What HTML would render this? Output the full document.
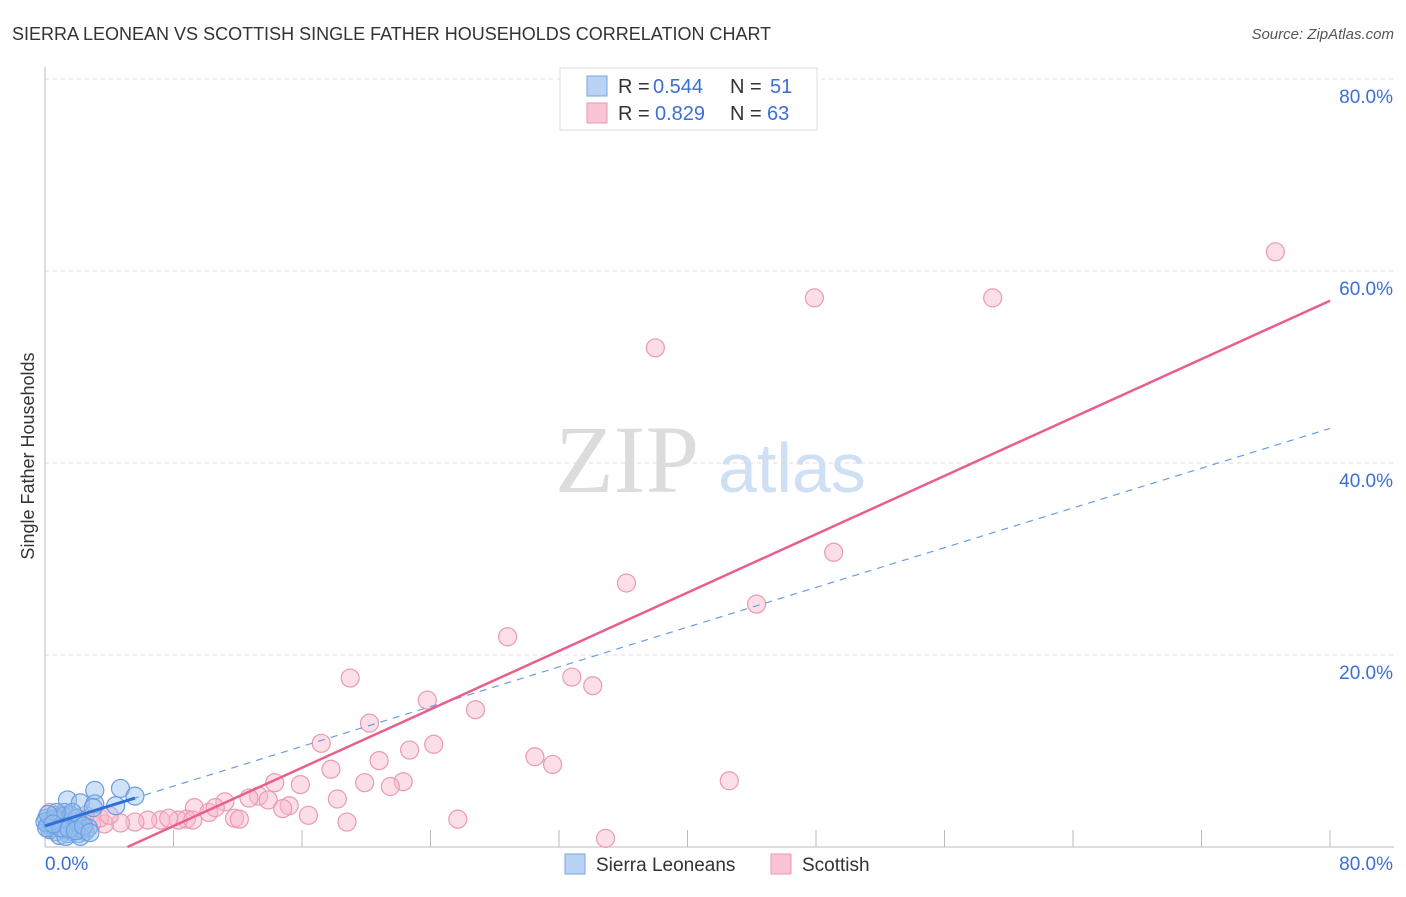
<!DOCTYPE html>
<html><head><meta charset="utf-8"><style>
body{margin:0;background:#fff;font-family:"Liberation Sans",sans-serif;}
svg text{font-family:"Liberation Sans",sans-serif;}
</style></head><body>
<svg id="c" width="1406" height="892">
<text x="12" y="40" font-size="18" fill="#333">SIERRA LEONEAN VS SCOTTISH SINGLE FATHER HOUSEHOLDS CORRELATION CHART</text>
<text x="1394" y="39" font-size="15" fill="#555" font-style="italic" text-anchor="end">Source: ZipAtlas.com</text>
<text x="555" y="492" font-size="96" fill="#dcdcdc" style="font-family:'Liberation Serif',serif">ZIP</text>
<text x="718" y="492" font-size="70" fill="#cfe0f5">atlas</text>
<text transform="translate(34,456) rotate(-90)" font-size="18" fill="#333" text-anchor="middle">Single Father Households</text>
<g id="grid"></g><g id="marks"></g>
<g>
<rect x="560" y="68" width="257" height="62" fill="#fff" stroke="#ddd"/>
<rect x="587" y="76" width="20" height="20" fill="#b9d3f5" stroke="#7aa6e0"/>
<rect x="587" y="103" width="20" height="20" fill="#f9c4d4" stroke="#ea9ab2"/>
<text x="618" y="93" font-size="20" fill="#333">R =</text><text x="653" y="93" font-size="20" fill="#3b6fd4">0.544</text>
<text x="730" y="93" font-size="20" fill="#333">N =</text><text x="770" y="93" font-size="20" fill="#3b6fd4">51</text>
<text x="618" y="120" font-size="20" fill="#333">R =</text><text x="655" y="120" font-size="20" fill="#3b6fd4">0.829</text>
<text x="730" y="120" font-size="20" fill="#333">N =</text><text x="767" y="120" font-size="20" fill="#3b6fd4">63</text>
</g>
<g>
<rect x="565" y="854" width="20" height="20" fill="#b9d3f5" stroke="#7aa6e0"/>
<text x="596" y="871" font-size="19" fill="#333">Sierra Leoneans</text>
<rect x="771" y="854" width="20" height="20" fill="#f9c4d4" stroke="#ea9ab2"/>
<text x="802" y="871" font-size="19" fill="#333">Scottish</text>
</g>
</svg>
<script>
const yTicks=[20,40,60,80];
const xTickLabels=["0.0%","80.0%"];
const blueX=[4.7,3.1,5.6,1.4,2.2,3.1,4.4,3.0,1.2,0.6,0.3,0.6,0.9,0.2,0.4,0.8,1.1,1.3,1.6,1.9,1.7,2.1,2.3,1.4,1.2,0.7,0.1,0.3,0.9,1.8,2.2,2.5,0.6,1.1,0.8,1.6,2.0,0.0,0.1,2.7,1.3,2.2,1.7,0.7,0.2,1.0,0.5,1.5,1.9,2.4,2.8];
const blueY=[6.1,5.9,5.3,4.9,4.6,4.5,4.3,4.1,3.6,3.3,2.8,2.6,3.0,2.3,2.0,2.2,2.4,2.6,2.2,2.0,1.6,1.4,1.8,1.4,1.8,1.6,3.0,1.8,1.2,2.6,2.4,1.6,2.9,3.2,2.8,3.3,3.0,2.6,2.0,2.0,1.1,1.1,3.6,3.6,3.4,2.0,2.4,1.9,1.7,2.2,1.5];
const pinkX=[76.6,47.9,59.0,38.0,49.1,36.2,44.3,28.8,19.0,32.8,34.1,23.8,26.8,20.2,17.2,24.2,22.7,30.5,31.6,20.8,17.8,42.6,14.3,19.9,22.3,21.5,15.9,13.3,12.7,18.2,13.9,11.2,15.2,14.8,16.4,18.8,25.7,34.9,9.3,10.2,11.8,12.1,8.8,8.3,7.2,6.4,5.6,4.7,3.7,2.9,2.2,1.6,0.9,0.3,0.6,1.2,1.9,3.4,4.0,10.6,9.2,7.7,2.5];
const pinkY=[62.0,57.2,57.2,52.0,30.7,27.5,25.3,21.9,17.6,17.7,16.8,15.3,14.3,12.9,10.8,10.7,10.1,9.4,8.6,9.0,8.1,6.9,6.7,6.7,6.8,6.3,6.5,5.3,5.1,5.0,4.9,4.7,4.3,4.0,3.3,2.6,2.9,0.9,4.1,3.6,3.0,2.9,2.9,2.8,2.8,2.8,2.6,2.5,2.4,2.4,2.6,3.0,3.2,3.6,2.2,1.8,2.0,3.0,3.3,4.1,2.8,3.0,3.3];
const blueFit=[2.2,0.5175];
const pinkFit=[-3.9,0.76];
const NS='http://www.w3.org/2000/svg';
const sx=v=>45+v*1285/80, sy=v=>847-v*9.6;
function mk(t,a,p){const e=document.createElementNS(NS,t);for(const k in a)e.setAttribute(k,a[k]);p.appendChild(e);return e;}
const g=document.getElementById('grid'),m=document.getElementById('marks');
yTicks.forEach(t=>{
 const l=mk('line',{x1:45,x2:1394,y1:sy(t),y2:sy(t),stroke:'#ddd','stroke-dasharray':'4,4'},g);
 
 
 const tx=mk('text',{x:1393,y:sy(t)+24,'text-anchor':'end','font-size':19,fill:'#3b6fd4'},g);tx.textContent=t.toFixed(1)+'%';
 
 
});
const ax=mk('line',{x1:45,x2:45,y1:67,y2:847,stroke:'#bbb'},g);


const bx=mk('line',{x1:45,x2:1394,y1:847,y2:847,stroke:'#bbb'},g);


for(let i=1;i<=10;i++){const tk=mk('line',{x1:sx(i*8),x2:sx(i*8),y1:830,y2:847,stroke:'#bbb'},g);
 
 }
[[45,'start'],[1393,'end']].forEach((p,i)=>{const t=mk('text',{x:p[0],y:870,'text-anchor':p[1],'font-size':19,fill:'#3b6fd4'},g);t.textContent=xTickLabels[i];
 
 });
pinkX.forEach((x,i)=>{const c=mk('circle',{cx:sx(x),cy:sy(pinkY[i]),r:9,fill:'rgba(248,182,202,0.45)',stroke:'#ea9ab2','stroke-width':1.2},m);
 
 });
blueX.forEach((x,i)=>{const c=mk('circle',{cx:sx(x),cy:sy(blueY[i]),r:9,fill:'rgba(150,190,240,0.45)',stroke:'#6a9ee0','stroke-width':1.2},m);
 
 });
const f=(fit,x)=>fit[0]+fit[1]*x;
const bd=mk('line',{x1:sx(0),y1:sy(f(blueFit,0)),x2:sx(80),y2:sy(f(blueFit,80)),stroke:'#6a9ee0','stroke-width':1.2,'stroke-dasharray':'7,6'},m);


const bs=mk('line',{x1:sx(0),y1:sy(f(blueFit,0)),x2:sx(5.6),y2:sy(f(blueFit,5.6)),stroke:'#2f6fd8','stroke-width':3},m);


const x0=-pinkFit[0]/pinkFit[1];
const pl=mk('line',{x1:sx(x0),y1:sy(0),x2:sx(80),y2:sy(f(pinkFit,80)),stroke:'#e8608a','stroke-width':2.5},m);


</script>
</body></html>
